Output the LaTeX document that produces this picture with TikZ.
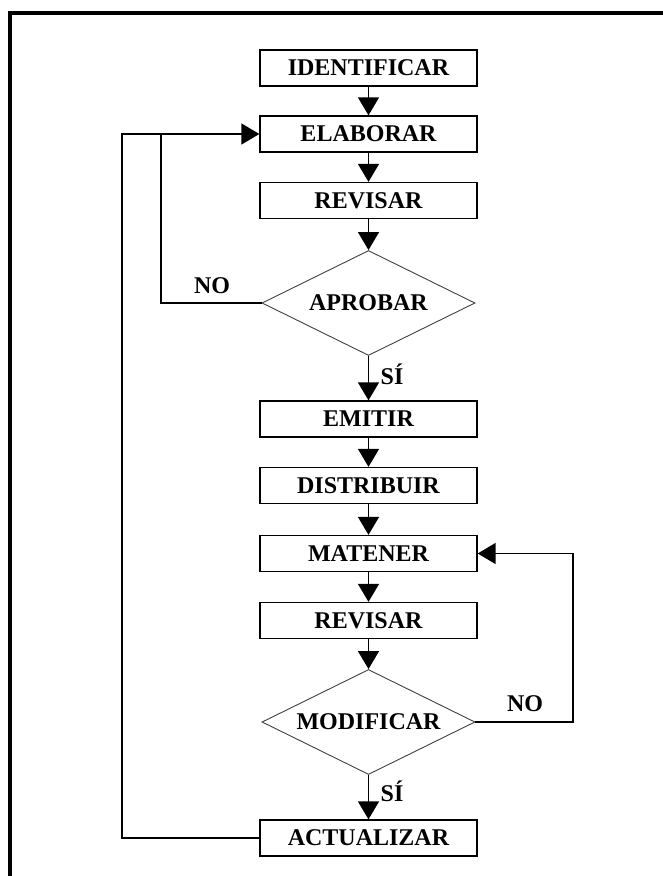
\documentclass[tikz,border=0pt]{standalone}
\usepackage{fontspec}
\setmainfont{Liberation Serif}
\usetikzlibrary{shapes.geometric,arrows.meta}
\begin{document}
\begin{tikzpicture}[x=1pt,y=-1pt,
    font=\fontsize{24}{24}\selectfont\bfseries,
    paso/.style={draw, line width=1.3pt, minimum width=217pt, minimum height=36pt, inner sep=0pt},
    decide/.style={draw=black!75, line width=0.9pt, diamond, aspect=2.03, minimum width=213pt, minimum height=105pt, inner sep=0pt},
    flecha/.style={line width=1.4pt, -{Triangle[width=21pt,length=18pt]}},
    linea/.style={line width=1.4pt}]
    \clip (0,0) rectangle (663,876);
    % Marco
    \draw[line width=4pt] (9.5,900) -- (9.5,13) -- (700,13);

    % Pasos
    \node[paso] (ident) at (368.5,68) {IDENTIFICAR};
    \node[paso] (elab) at (368.5,134) {ELABORAR};
    \node[paso] (revA) at (368.5,200.5) {REVISAR};
    \node[decide] (aprob) at (368.5,303) {APROBAR};
    \node[paso] (emit) at (368.5,419) {EMITIR};
    \node[paso] (distr) at (368.5,485.5) {DISTRIBUIR};
    \node[paso] (mant) at (368.5,553.5) {MATENER};
    \node[paso] (revB) at (368.5,620.5) {REVISAR};
    \node[decide] (modif) at (368.5,722) {MODIFICAR};
    \node[paso] (actu) at (368.5,838) {ACTUALIZAR};

    % Flujo principal
    \draw[flecha] (ident) -- (elab);
    \draw[flecha] (elab) -- (revA);
    \draw[flecha] (revA) -- (aprob);
    \draw[flecha] (aprob) -- (emit);
    \draw[flecha] (emit) -- (distr);
    \draw[flecha] (distr) -- (mant);
    \draw[flecha] (mant) -- (revB);
    \draw[flecha] (revB) -- (modif);
    \draw[flecha] (modif) -- (actu);
    \node (siA) at (392,374) {SÍ};
    \node (siB) at (392,791) {SÍ};

    % Retornos
    \coordinate (retA) at (122,134);
    \coordinate (retB) at (161,134);
    \coordinate (retC) at (573,553.5);
    \draw[flecha] (actu.west) -| (retA) -- (elab.west);
    \draw[linea] (aprob.west) -| (retB);
    \draw[flecha] (modif.east) -| (retC) -- (mant.east);
    \node (noA) at (212,286) {NO};
    \node (noB) at (525,704) {NO};
\end{tikzpicture}
\end{document}
